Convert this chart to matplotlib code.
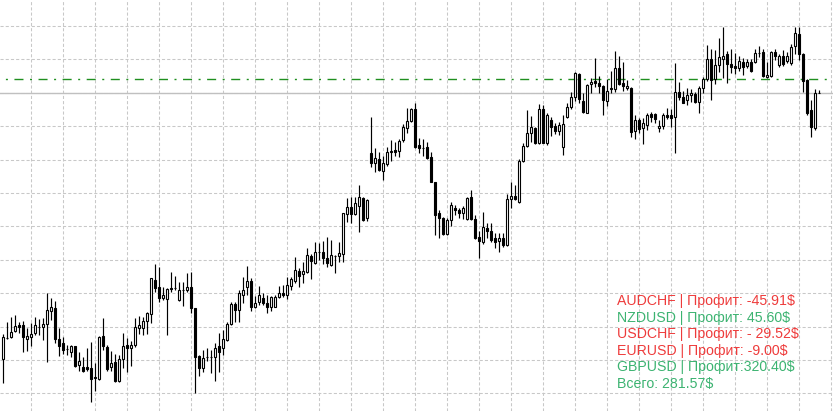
import matplotlib
matplotlib.use('Agg')
import matplotlib.pyplot as plt
from matplotlib.ticker import MultipleLocator
import numpy as np

# OHLC prices (chart points)
opens = [52, 73, 74, 80, 86, 86, 72, 74, 78, 84,
         84, 87, 100, 103, 72, 68, 62, 59, 65, 46,
         44, 44, 43, 34, 32, 75, 64, 44, 49, 30,
         52, 66, 63, 66, 83, 83, 90, 97, 131, 124,
         113, 112, 123, 123, 111, 121, 121, 124, 103, 55,
         43, 54, 54, 54, 65, 63, 71, 87, 107, 101,
         116, 124, 130, 104, 109, 113, 108, 104, 104, 114,
         118, 116, 125, 130, 140, 137, 139, 155, 148, 159,
         159, 153, 146, 155, 155, 157, 197, 204, 197, 205,
         213, 193, 258, 248, 252, 240, 247, 259, 261, 260,
         271, 283, 290, 302, 266, 263, 264, 254, 229, 198,
         193, 177, 191, 203, 201, 198, 192, 214, 192, 174,
         169, 183, 180, 173, 170, 173, 166, 212, 215, 209,
         250, 265, 278, 283, 268, 302, 268, 291, 285, 280,
         264, 294, 304, 314, 337, 310, 298, 327, 330, 328,
         325, 310, 323, 322, 343, 328, 323, 323, 280, 291,
         283, 286, 297, 297, 283, 285, 296, 296, 294, 319,
         314, 311, 316, 317, 309, 323, 332, 352, 332, 346,
         352, 357, 347, 345, 343, 349, 345, 349, 349, 358,
         359, 334, 335, 359, 346, 355, 350, 348, 365, 377,
         357, 331, 301, 283, 318]

highs = [77, 89, 94, 96, 89, 90, 83, 88, 94, 92,
         93, 118, 113, 110, 83, 74, 66, 66, 65, 59,
         54, 63, 69, 48, 75, 93, 66, 60, 57, 56,
         78, 73, 70, 93, 95, 94, 99, 133, 147, 144,
         124, 123, 139, 135, 129, 129, 138, 139, 103, 56,
         61, 63, 61, 68, 78, 81, 89, 109, 109, 121,
         134, 145, 133, 115, 125, 118, 116, 115, 116, 125,
         126, 134, 134, 154, 143, 149, 163, 157, 169, 168,
         170, 174, 171, 156, 169, 198, 213, 214, 214, 226,
         214, 212, 294, 263, 259, 255, 264, 271, 269, 272,
         287, 303, 303, 308, 273, 272, 269, 259, 229, 201,
         194, 193, 209, 206, 203, 205, 214, 221, 196, 180,
         199, 188, 188, 178, 178, 178, 217, 229, 226, 252,
         268, 301, 295, 284, 307, 306, 298, 294, 288, 289,
         296, 308, 319, 339, 338, 318, 327, 333, 353, 335,
         326, 332, 340, 360, 355, 349, 331, 324, 296, 293,
         293, 298, 299, 298, 291, 298, 303, 302, 348, 329,
         320, 323, 322, 319, 325, 334, 366, 362, 361, 373,
         384, 360, 362, 358, 355, 353, 352, 352, 362, 365,
         362, 349, 360, 362, 357, 361, 359, 367, 384, 384,
         358, 332, 311, 322, 321]

lows = [28, 72, 73, 79, 78, 59, 60, 65, 76, 76,
        71, 49, 91, 68, 55, 57, 56, 54, 44, 40,
        39, 40, 9, 20, 31, 61, 40, 40, 29, 29,
        43, 39, 45, 64, 77, 76, 77, 88, 119, 109,
        111, 76, 119, 121, 110, 105, 119, 98, 18, 35,
        39, 50, 38, 30, 39, 56, 70, 86, 89, 89,
        108, 116, 100, 103, 106, 106, 98, 100, 104, 113,
        114, 112, 121, 128, 124, 128, 138, 132, 147, 151,
        147, 144, 145, 138, 149, 149, 189, 188, 196, 179,
        190, 190, 244, 239, 240, 231, 245, 250, 255, 254,
        269, 278, 289, 263, 258, 255, 252, 229, 176, 173,
        176, 176, 185, 196, 193, 192, 191, 191, 172, 153,
        167, 173, 169, 163, 159, 164, 165, 203, 211, 208,
        249, 264, 269, 267, 267, 268, 266, 275, 277, 276,
        256, 293, 302, 310, 308, 298, 298, 318, 324, 318,
        296, 305, 318, 319, 326, 320, 321, 274, 272, 278,
        267, 281, 289, 288, 279, 282, 292, 284, 258, 311,
        308, 306, 309, 308, 298, 318, 330, 311, 327, 339,
        333, 328, 338, 337, 340, 336, 343, 339, 348, 354,
        334, 333, 334, 351, 344, 345, 348, 346, 357, 351,
        319, 296, 274, 281, 318]

closes = [74, 73, 79, 85, 84, 74, 75, 77, 86, 84,
          87, 101, 104, 72, 65, 61, 62, 65, 45, 50,
          40, 42, 32, 33, 74, 65, 42, 48, 30, 52,
          65, 63, 66, 84, 86, 90, 98, 133, 123, 113,
          116, 122, 122, 123, 121, 121, 124, 103, 54, 43,
          53, 54, 54, 63, 59, 72, 87, 107, 101, 118,
          121, 130, 104, 108, 116, 108, 104, 114, 114, 118,
          116, 126, 132, 141, 135, 140, 156, 150, 159, 159,
          153, 148, 156, 155, 158, 198, 204, 197, 208, 214,
          191, 211, 248, 253, 241, 248, 259, 260, 259, 270,
          284, 290, 302, 264, 263, 263, 253, 229, 196, 193,
          177, 191, 206, 201, 198, 203, 213, 192, 173, 170,
          184, 180, 171, 169, 173, 166, 212, 215, 212, 250,
          265, 278, 284, 268, 302, 268, 296, 284, 280, 286,
          287, 304, 314, 338, 312, 299, 326, 329, 328, 325,
          311, 320, 322, 343, 327, 325, 325, 279, 291, 282,
          288, 296, 294, 292, 285, 296, 294, 293, 319, 314,
          308, 316, 318, 309, 323, 332, 352, 331, 346, 354,
          355, 347, 344, 343, 350, 344, 349, 340, 358, 358,
          335, 336, 359, 355, 355, 347, 355, 364, 378, 357,
          330, 298, 284, 318, 318]

level_price = 331.7  # green dash-dot level

profit_labels = ["AUDCHF | Профит: -45.91$",
                 "NZDUSD | Профит: 45.60$",
                 "USDCHF | Профит: - 29.52$",
                 "EURUSD | Профит: -9.00$",
                 "GBPUSD | Профит:320.40$",
                 "Всего: 281.57$"]
profit_colors = ["#ee3b3b", "#3cb371", "#ee3b3b", "#ee3b3b", "#3cb371", "#3cb371"]

o = np.array(opens, float)
h = np.array(highs, float)
l = np.array(lows, float)
c = np.array(closes, float)
x = np.arange(len(o))

fig = plt.figure(figsize=(8.33, 4.11), dpi=100)
ax = fig.add_axes([0, 0, 1, 1])
ax.set_facecolor('white')

ax.vlines(x, l, h, color='black', linewidth=0.85, zorder=3)
bull = c >= o
bottom = np.minimum(o, c)
height = np.abs(c - o)
ax.bar(x[bull], height[bull], bottom=bottom[bull], width=0.5, color='white',
       edgecolor='black', linewidth=0.8, zorder=4)
ax.bar(x[~bull], height[~bull], bottom=bottom[~bull], width=0.5, color='black',
       edgecolor='black', linewidth=0.8, zorder=4)

ax.set_xlim(-0.675, 207.575)
ax.set_ylim(0, 411)
ax.xaxis.set_major_locator(MultipleLocator(8, offset=7))
ax.yaxis.set_major_locator(MultipleLocator(33.4, offset=17.6))
ax.set_axisbelow(True)
ax.grid(True, color='#c8c8c8', linestyle=(0, (3, 2)), linewidth=0.75)
ax.tick_params(length=0, labelbottom=False, labelleft=False)
for s in ax.spines.values():
    s.set_visible(False)

ax.axhline(c[-1], color='#c0c0c0', linewidth=1.0, zorder=2)
ax.axhline(level_price, color='#1f8f1f', linewidth=1.0,
           linestyle=(7.3, (6.5, 4.7, 1.44, 4.7)), zorder=2)

for k, (t, col) in enumerate(zip(profit_labels, profit_colors)):
    fig.text(617 / 833, 1 - (305 + 16.6 * k) / 411, t, color=col,
             fontsize=10.2, family=['Liberation Sans', 'DejaVu Sans'],
             ha='left', va='baseline')

fig.savefig('out.png', dpi=100)
